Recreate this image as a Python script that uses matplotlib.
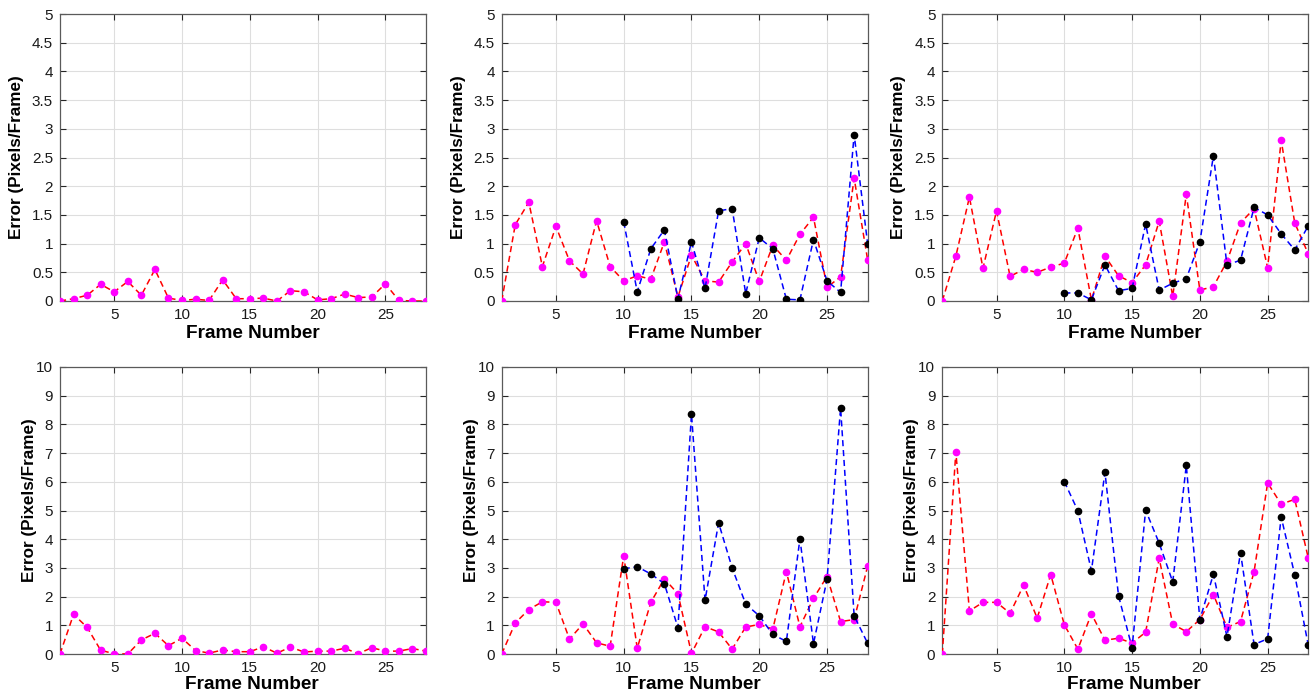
import matplotlib
matplotlib.use("Agg")
import matplotlib.pyplot as plt
import numpy as np

plt.rcParams['font.family'] = ['Liberation Sans', 'DejaVu Sans']

frames = list(range(1, 29))
frames_b = list(range(10, 29))

# top row (0-5)
tl_pink = [0, 0.04, 0.10, 0.29, 0.16, 0.34, 0.10, 0.55, 0.05, 0.01, 0.03, 0.01, 0.37, 0.04,
           0.04, 0.05, 0.0, 0.18, 0.16, 0.02, 0.04, 0.12, 0.06, 0.07, 0.30, 0.01, 0.0, 0.0]

tm_pink = [0, 1.33, 1.72, 0.60, 1.30, 0.70, 0.47, 1.40, 0.60, 0.35, 0.44, 0.38, 1.03, 0.07,
           0.80, 0.35, 0.33, 0.68, 1.00, 0.34, 0.97, 0.71, 1.16, 1.46, 0.24, 0.42, 2.14, 0.71]
tm_black = [1.38, 0.16, 0.91, 1.24, 0.04, 1.03, 0.22, 1.57, 1.61, 0.13, 1.10, 0.91, 0.03,
            0.02, 1.07, 0.35, 0.15, 2.90, 0.99]

tr_pink = [0, 0.78, 1.81, 0.57, 1.57, 0.43, 0.55, 0.50, 0.59, 0.66, 1.27, 0.02, 0.78, 0.44,
           0.32, 0.63, 1.39, 0.08, 1.86, 0.19, 0.25, 0.69, 1.36, 1.61, 0.58, 2.80, 1.36, 0.82]
tr_black = [0.14, 0.14, 0.02, 0.63, 0.18, 0.22, 1.34, 0.19, 0.31, 0.39, 1.03, 2.53, 0.63,
            0.71, 1.63, 1.50, 1.17, 0.89, 1.31]

# bottom row (0-10)
bl_pink = [0, 1.38, 0.93, 0.13, 0.01, 0.0, 0.49, 0.72, 0.29, 0.55, 0.12, 0.03, 0.14, 0.08,
           0.08, 0.25, 0.03, 0.24, 0.07, 0.10, 0.10, 0.20, 0.01, 0.22, 0.10, 0.10, 0.19, 0.10]

bm_pink = [0, 1.08, 1.55, 1.82, 1.80, 0.52, 1.05, 0.39, 0.27, 3.42, 0.20, 1.80, 2.62, 2.10,
           0.02, 0.95, 0.77, 0.17, 0.94, 1.03, 0.87, 2.87, 0.95, 1.94, 2.70, 1.13, 1.20, 3.07]
bm_black = [2.97, 3.04, 2.79, 2.45, 0.92, 8.36, 1.87, 4.57, 3.00, 1.74, 1.33, 0.68, 0.44,
            4.01, 0.36, 2.60, 8.57, 1.33, 0.37]

br_pink = [0, 7.04, 1.50, 1.80, 1.80, 1.42, 2.40, 1.25, 2.77, 1.02, 0.17, 1.40, 0.48, 0.55,
           0.38, 0.76, 3.33, 1.04, 0.78, 1.20, 2.07, 0.93, 1.13, 2.87, 5.96, 5.22, 5.39, 3.34]
br_black = [6.01, 4.99, 2.90, 6.33, 2.03, 0.22, 5.01, 3.86, 2.51, 6.57, 1.20, 2.78, 0.60,
            3.53, 0.33, 0.53, 4.77, 2.76, 0.30]

xticks = [5, 10, 15, 20, 25]
yticks_top = [0, 0.5, 1, 1.5, 2, 2.5, 3, 3.5, 4, 4.5, 5]
yticks_top_labels = ['0', '0.5', '1', '1.5', '2', '2.5', '3', '3.5', '4', '4.5', '5']
yticks_bot = [0, 1, 2, 3, 4, 5, 6, 7, 8, 9, 10]

fig = plt.figure(figsize=(13.14, 6.95), dpi=100)

W, H = 1314, 695
lefts = [60, 501.7, 942.3]
width = 366
top_row = (14, 301)
bot_row = (367, 654)
ax_h = 287

def make_ax(left, rows):
    t, b = rows
    return fig.add_axes([left / W, 1 - b / H, width / W, (b - t) / H])

panels = [
    (lefts[0], top_row, tl_pink, None, 'top'),
    (lefts[1], top_row, tm_pink, tm_black, 'top'),
    (lefts[2], top_row, tr_pink, tr_black, 'top'),
    (lefts[0], bot_row, bl_pink, None, 'bot'),
    (lefts[1], bot_row, bm_pink, bm_black, 'bot'),
    (lefts[2], bot_row, br_pink, br_black, 'bot'),
]

axc = '#262626'
for left, rows, pink, black, kind in panels:
    ax = make_ax(left, rows)
    ax.plot(frames, pink, linestyle='--', color='#FF0000', linewidth=1.1, dashes=(4, 2.5),
            marker='o', markersize=4.5, markerfacecolor='#FF00FF', markeredgecolor='#FF00FF',
            zorder=3)
    if black is not None:
        ax.plot(frames_b, black, linestyle='--', color='#0000FF', linewidth=1.1, dashes=(4, 2.5),
                marker='o', markersize=4.5, markerfacecolor='black', markeredgecolor='black',
                zorder=4)
    ax.set_xlim(1, 28)
    ax.set_xticks(xticks)
    if kind == 'top':
        ax.set_ylim(0, 5)
        ax.set_yticks(yticks_top)
        ax.set_yticklabels(yticks_top_labels)
    else:
        ax.set_ylim(0, 10)
        ax.set_yticks(yticks_bot)
    ax.grid(True, color='#DEDEDE', linewidth=0.8)
    ax.set_axisbelow(True)
    ax.tick_params(direction='in', top=True, right=True, length=4, width=0.8,
                   colors=axc, labelsize=11, labelcolor='#1a1a1a', pad=5)
    for s in ax.spines.values():
        s.set_color('#5a5a5a')
        s.set_linewidth(0.9)
    ax.set_xlabel('Frame Number', fontsize=13.7, fontweight='bold')
    ax.set_ylabel('Error (Pixels/Frame)', fontsize=12.3, fontweight='bold')
    if kind == 'top':
        ax.yaxis.set_label_coords(-36 / width, 0.5)
        ax.xaxis.set_label_coords(0.5 + 10 / width, -24 / ax_h)
    else:
        ax.yaxis.set_label_coords(-23 / width, 0.535)
        ax.xaxis.set_label_coords(0.5 + 9 / width, -22 / ax_h)

fig.savefig('out.png', dpi=100, facecolor='white')
